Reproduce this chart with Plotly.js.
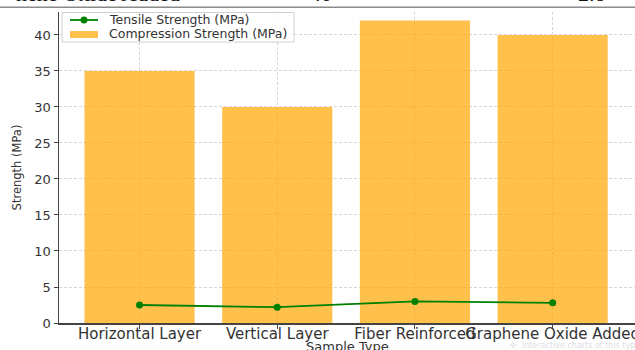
<!DOCTYPE html>
<html>
<head>
<meta charset="utf-8">
<script src="https://cdn.plot.ly/plotly-3.0.1.min.js"></script>
<style>
  html, body { margin: 0; padding: 0; background: #fff; overflow: hidden; }
  #chart { width: 635px; height: 350px; }
</style>
</head>
<body>
<div id="chart"></div>
<script>
// Sample types and measured strengths
const sampleTypes = ["Horizontal Layer", "Vertical Layer", "Fiber Reinforced", "Graphene Oxide Added"];
const compressionStrength = [35, 30, 42, 40];
const tensileStrength = [2.5, 2.2, 3.0, 2.8];
const yTicks = [0, 5, 10, 15, 20, 25, 30, 35, 40];
const seriesNames = ["Tensile Strength (MPa)", "Compression Strength (MPa)"];

// Table row just above the chart (last row, partly scrolled out of view)
const tableRow = ["hene Oxide Added", "40", "2.8"];

const font = "DejaVu Sans, sans-serif";
const serif = "Liberation Serif, serif";
const green = "#008000";
const barFill = "rgba(255,165,0,0.7)";

// plot frame in pixels, used to place the hand-drawn legend
const W = 635, H = 350, L = 59, R = 0, T = 12, B = 27;
const pw = W - L - R, ph = H - T - B;
const px = x => (x - L) / pw;
const py = y => (H - B - y) / ph;

const traces = [
  {
    type: "bar",
    name: seriesNames[1],
    x: [0, 1, 2, 3],
    y: compressionStrength,
    width: 0.8,
    marker: { color: barFill, line: { width: 0 } },
    showlegend: false
  },
  {
    type: "scatter",
    mode: "lines+markers",
    name: seriesNames[0],
    x: [0, 1, 2, 3],
    y: tensileStrength,
    line: { color: green, width: 1.8 },
    marker: { color: green, size: 7 },
    showlegend: false
  }
];

// legend box (upper left), drawn with shapes and annotations
const legendShapes = [
  { type: "rect", xref: "paper", yref: "paper", x0: px(62), x1: px(294), y0: py(42), y1: py(12.5),
    fillcolor: "rgba(255,255,255,0.85)", line: { color: "#d0d0d0", width: 1 }, layer: "above" },
  { type: "line", xref: "paper", yref: "paper", x0: px(70), x1: px(98), y0: py(20), y1: py(20),
    line: { color: green, width: 1.8 }, layer: "above" },
  { type: "circle", xref: "paper", yref: "paper", x0: px(80.5), x1: px(87.5), y0: py(23.5), y1: py(16.5),
    fillcolor: green, line: { width: 0 }, layer: "above" },
  { type: "rect", xref: "paper", yref: "paper", x0: px(70), x1: px(98), y0: py(38), y1: py(31),
    fillcolor: barFill, line: { width: 0 }, layer: "above" },
  // table border above the chart
  { type: "line", xref: "paper", yref: "paper", x0: px(0), x1: px(635), y0: py(7.3), y1: py(7.3),
    line: { color: "#8a8a8a", width: 1.5 }, layer: "above" }
];

const legendText = seriesNames.map((name, i) => ({
  xref: "paper", yref: "paper", x: px(107), y: py(20 + 14 * i),
  xanchor: "left", yanchor: "middle", showarrow: false, text: name,
  font: { family: font, size: 12.5, color: "#333" }
}));

const layout = {
  width: W,
  height: H,
  margin: { l: L, r: R, t: T, b: B },
  paper_bgcolor: "#fff",
  plot_bgcolor: "#fff",
  showlegend: false,
  xaxis: {
    range: [-0.585, 3.598],
    tickmode: "array",
    tickvals: [0, 1, 2, 3],
    ticktext: sampleTypes,
    tickangle: 0,
    ticklabeloverflow: "allow",
    tickfont: { family: font, size: 15, color: "#333" },
    ticks: "outside", ticklen: 4, tickcolor: "#444",
    ticklabelstandoff: -8,
    showgrid: true, gridcolor: "#d6d6d6", griddash: "3px,2px", gridwidth: 1,
    showline: true, linecolor: "#444", linewidth: 1.5, mirror: false,
    zeroline: false
  },
  yaxis: {
    range: [0, 43.19],
    tickmode: "array",
    tickvals: yTicks,
    tickfont: { family: font, size: 13, color: "#333" },
    ticks: "outside", ticklen: 4, tickcolor: "#444",
    showgrid: true, gridcolor: "#d6d6d6", griddash: "3px,2px", gridwidth: 1,
    showline: true, linecolor: "#444", linewidth: 1.5, mirror: false,
    zeroline: false,
    title: { text: "Strength (MPa)", font: { family: font, size: 11.5, color: "#333" }, standoff: 10 }
  },
  shapes: legendShapes,
  annotations: legendText.concat([
    { xref: "paper", yref: "paper", x: px(182), y: 1, yshift: 4, xanchor: "right", yanchor: "bottom",
      text: tableRow[0], showarrow: false, font: { family: serif, size: 22, color: "#111" } },
    { xref: "paper", yref: "paper", x: px(321), y: 1, yshift: 4, xanchor: "center", yanchor: "bottom",
      text: tableRow[1], showarrow: false, font: { family: serif, size: 22, color: "#111" } },
    { xref: "paper", yref: "paper", x: px(592), y: 1, yshift: 4, xanchor: "center", yanchor: "bottom",
      text: tableRow[2], showarrow: false, font: { family: serif, size: 22, color: "#111" } },
    // x axis title
    { xref: "paper", yref: "paper", x: 0.5, y: 0, yshift: -14, xanchor: "center", yanchor: "top",
      text: "Sample Type", showarrow: false, font: { family: font, size: 13, color: "#333" } },
    // faint footer note
    { xref: "paper", yref: "paper", x: px(508), y: py(345), xanchor: "left", yanchor: "middle",
      text: "✣  Interactive charts of this type", showarrow: false,
      font: { family: font, size: 8, color: "#e0e0e0" } }
  ])
};

Plotly.newPlot("chart", traces, layout, { staticPlot: true, displayModeBar: false });
</script>
</body>
</html>
